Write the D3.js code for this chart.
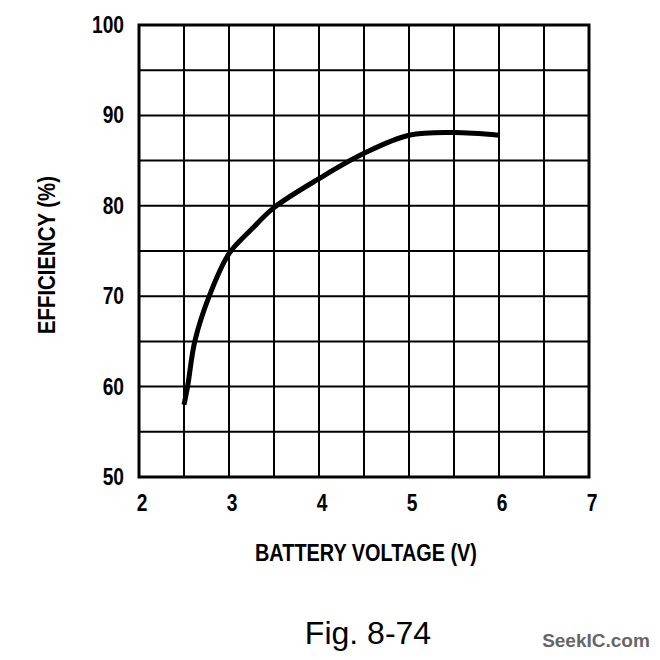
<!DOCTYPE html>
<html><head><meta charset="utf-8">
<script src="https://cdn.jsdelivr.net/npm/d3@7"></script>
<style>body{margin:0;background:#fff}</style>
</head><body>
<svg id="c" width="660" height="660"></svg>
<script>
const voltage = [2.5, 2.54, 2.62, 2.78, 3.0, 3.25, 3.5, 4.0, 4.5, 5.0, 5.5, 6.0];
const efficiency = [58, 60, 65, 70, 74.7, 77.4, 79.8, 83, 85.8, 87.8, 88.1, 87.8];
const xTicks = [2, 3, 4, 5, 6, 7];
const yTicks = [50, 60, 70, 80, 90, 100];
const xGrid = [2.5, 3, 3.5, 4, 4.5, 5, 5.5, 6, 6.5];
const yGrid = [55, 60, 65, 70, 75, 80, 85, 90, 95];

const svg = d3.select("#c");
const x = d3.scaleLinear().domain([2, 7]).range([139, 589]);
const y = d3.scaleLinear().domain([50, 100]).range([477, 25]);
const font = "'Liberation Sans', Arial, sans-serif";

function squeeze(sel, k) {
  sel.each(function () {
    const w = this.getComputedTextLength();
    d3.select(this).attr("textLength", w * k).attr("lengthAdjust", "spacingAndGlyphs");
  });
}

svg.append("g").selectAll("line").data(xGrid).join("line")
  .attr("x1", d => x(d)).attr("x2", d => x(d)).attr("y1", y(100)).attr("y2", y(50))
  .attr("stroke", "#000").attr("stroke-width", 2);
svg.append("g").selectAll("line").data(yGrid).join("line")
  .attr("y1", d => y(d)).attr("y2", d => y(d)).attr("x1", x(2)).attr("x2", x(7))
  .attr("stroke", "#000").attr("stroke-width", 2);
svg.append("rect").attr("x", x(2)).attr("y", y(100)).attr("width", x(7) - x(2)).attr("height", y(50) - y(100))
  .attr("fill", "none").attr("stroke", "#000").attr("stroke-width", 3);

const pts = voltage.map((v, i) => [v, efficiency[i]]);
svg.append("path").datum(pts)
  .attr("d", d3.line().x(d => x(d[0])).y(d => y(d[1])).curve(d3.curveCatmullRom.alpha(0.5)))
  .attr("fill", "none").attr("stroke", "#000").attr("stroke-width", 5).attr("stroke-linecap", "butt");

svg.append("g").selectAll("text").data(yTicks).join("text")
  .attr("x", 124).attr("y", d => y(d) + 8).attr("text-anchor", "end")
  .attr("font-family", font).attr("font-size", 24).attr("font-weight", "bold")
  .text(d => d).call(squeeze, 0.8);
svg.append("g").selectAll("text").data(xTicks).join("text")
  .attr("x", d => x(d) + 3).attr("y", 511).attr("text-anchor", "middle")
  .attr("font-family", font).attr("font-size", 24).attr("font-weight", "bold")
  .text(d => d).call(squeeze, 0.8);

svg.append("text").attr("x", 366).attr("y", 561).attr("text-anchor", "middle")
  .attr("font-family", font).attr("font-size", 23).attr("font-weight", "bold")
  .attr("textLength", 222).attr("lengthAdjust", "spacingAndGlyphs").text("BATTERY VOLTAGE (V)");
svg.append("text").attr("transform", "translate(55,255) rotate(-90)").attr("text-anchor", "middle")
  .attr("font-family", font).attr("font-size", 23).attr("font-weight", "bold")
  .attr("textLength", 158).attr("lengthAdjust", "spacingAndGlyphs").text("EFFICIENCY (%)");

svg.append("text").attr("x", 368).attr("y", 644).attr("text-anchor", "middle")
  .attr("font-family", font).attr("font-size", 32).text("Fig. 8-74");
svg.append("text").attr("x", 596).attr("y", 647).attr("text-anchor", "middle")
  .attr("font-family", font).attr("font-weight", "bold")
  .attr("font-size", 19).attr("fill", "#666").text("SeekIC.com");
</script>
</body></html>
